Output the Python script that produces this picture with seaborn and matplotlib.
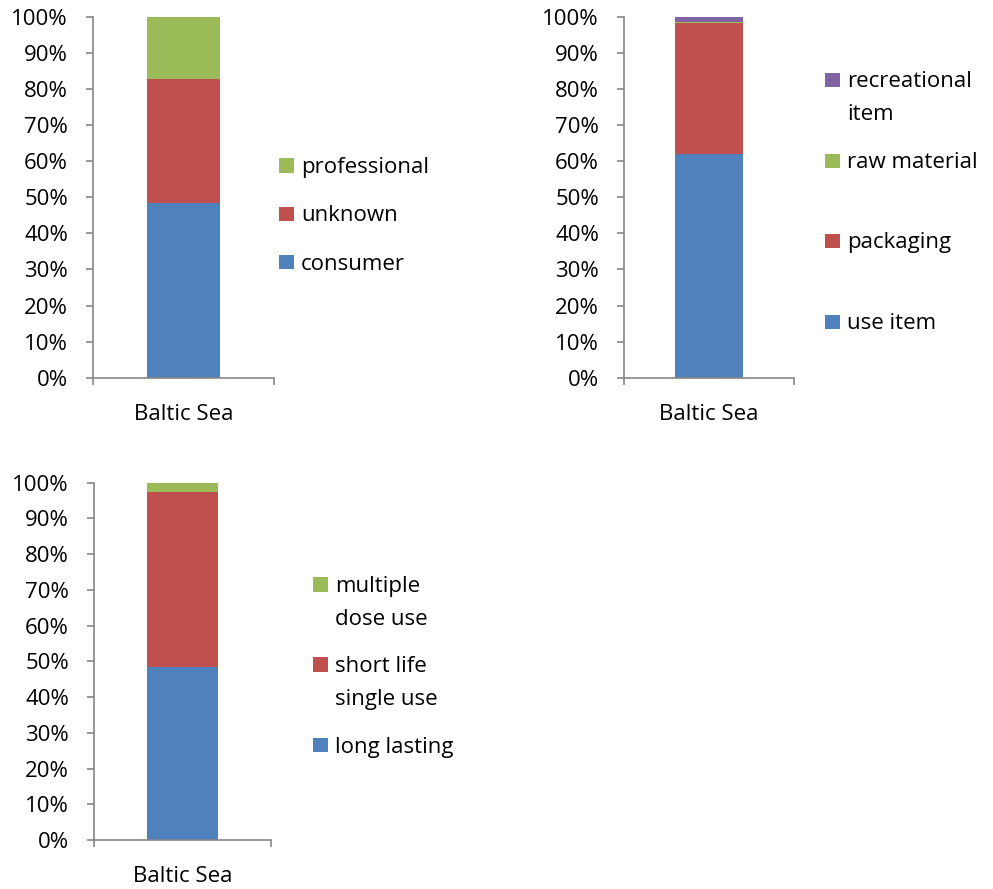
import matplotlib
matplotlib.use("Agg")
import matplotlib.pyplot as plt
from matplotlib.patches import Rectangle
from matplotlib.ticker import PercentFormatter
import numpy as np
import pandas as pd
import seaborn as sns

# ---- data -------------------------------------------------------------
sea = "Baltic Sea"

# litter by source, % of items (bottom -> top of the stack)
source_labels = ["consumer", "unknown", "professional"]
source_values = [48.3, 34.4, 17.3]

# litter by function
function_labels = ["use item", "packaging", "raw material", "recreational\nitem"]
function_values = [62.0, 36.3, 0.3, 1.4]

# litter by lifetime
lifetime_labels = ["long lasting", "short life\nsingle use", "multiple\ndose use"]
lifetime_values = [48.4, 49.0, 2.6]

y_ticks = [0.0, 0.1, 0.2, 0.3, 0.4, 0.5, 0.6, 0.7, 0.8, 0.9, 1.0]

# ---- style ------------------------------------------------------------
COLORS = ["#4F81BD", "#C0504D", "#9BBB59", "#8064A2"]
AXIS_GREY = "#868686"
W, H = 993, 889

sns.set_style("white")
plt.rcParams["font.family"] = ["Open Sans", "DejaVu Sans"]
plt.rcParams["font.size"] = 16
plt.rcParams["text.color"] = "black"
plt.rcParams["xtick.color"] = AXIS_GREY
plt.rcParams["ytick.color"] = AXIS_GREY
plt.rcParams["xtick.labelcolor"] = "black"
plt.rcParams["ytick.labelcolor"] = "black"

fig = plt.figure(figsize=(W / 100, H / 100), dpi=100)


def px_axes(left, top, right, bottom):
    """Add axes given pixel edges (origin top-left)."""
    return fig.add_axes([left / W, 1 - bottom / H, (right - left) / W, (bottom - top) / H])


def stacked_bar(ax, labels, values):
    df = pd.DataFrame({"sea": sea, "category": labels,
                       "share": np.asarray(values, dtype=float) / 100.0})
    df["top"] = df["share"].cumsum()
    # draw the tallest cumulative layer first, then cover it with the lower ones
    for i in reversed(range(len(df))):
        sns.barplot(data=df.iloc[[i]], x="sea", y="top", color=COLORS[i],
                    saturation=1, width=0.4, errorbar=None, linewidth=0,
                    edgecolor="none", ax=ax)

    ax.set_xlim(-0.5, 0.5)
    ax.set_ylim(0, 1)
    ax.set_xlabel("")
    ax.set_ylabel("")
    ax.set_yticks(y_ticks)
    ax.yaxis.set_major_formatter(PercentFormatter(1.0, decimals=0))
    ax.set_xticks([-0.5, 0.5])
    ax.set_xticklabels(["", ""])
    ax.set_xticks([0], minor=True)
    ax.set_xticklabels([sea], minor=True)

    for side in ("top", "right"):
        ax.spines[side].set_visible(False)
    for side in ("left", "bottom"):
        ax.spines[side].set_color(AXIS_GREY)
        ax.spines[side].set_linewidth(1.2)
    ax.tick_params(axis="y", which="major", direction="out", length=5,
                   width=1.2, pad=13, left=True)
    ax.tick_params(axis="x", which="major", direction="out", length=5,
                   width=1.2, bottom=True)
    ax.tick_params(axis="x", which="minor", length=0, pad=19, bottom=True)
    ax.grid(False)


def legend(labels, x_marker, x_text, centers):
    # entries listed top-down: last series of the stack first
    n = len(labels)
    for k, cy in enumerate(centers):
        i = n - 1 - k
        size = 14.5
        fig.add_artist(Rectangle((x_marker / W, 1 - (cy + size / 2) / H),
                                 size / W, size / H, transform=fig.transFigure,
                                 facecolor=COLORS[i], edgecolor="none"))
        for j, line in enumerate(labels[i].split("\n")):
            fig.text(x_text / W, 1 - (cy + 7.5 + 32.7 * j) / H, line,
                     ha="left", va="baseline", color="black")


ax1 = px_axes(93, 16.7, 274, 377.7)
stacked_bar(ax1, source_labels, source_values)
legend(source_labels, 279, 301, [165.5, 213.8, 262.0])

ax2 = px_axes(624, 16.7, 794, 377.7)
stacked_bar(ax2, function_labels, function_values)
legend(function_labels, 825, 847, [79.8, 160.8, 240.8, 321.8])

ax3 = px_axes(94, 482.7, 271, 840)
stacked_bar(ax3, lifetime_labels, lifetime_values)
legend(lifetime_labels, 313, 335, [584.5, 664.5, 745.0])

fig.savefig("out.png", dpi=100, facecolor="white")
